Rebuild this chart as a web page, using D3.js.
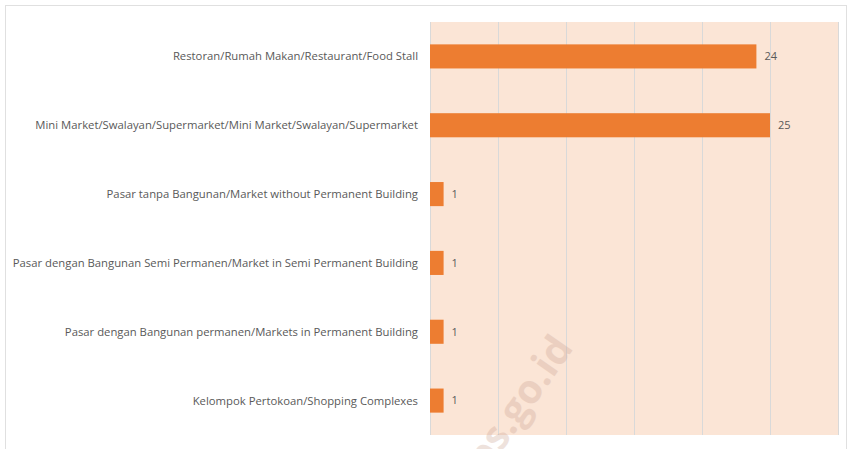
<!DOCTYPE html>
<html>
<head>
<meta charset="utf-8">
<script src="https://cdn.jsdelivr.net/npm/d3@7"></script>
<style>
  body { margin: 0; background: #fff; }
  svg { display: block; }
  .cat-label { font-family: 'Open Sans', sans-serif; font-size: 11.3px; fill: #595959; }
  .val-label { font-family: 'Open Sans', sans-serif; font-size: 11px; fill: #595959; }
</style>
</head>
<body>
<svg id="chart" width="850" height="449"></svg>
<script>
const categories = [
  'Restoran/Rumah Makan/Restaurant/Food Stall',
  'Mini Market/Swalayan/Supermarket/Mini Market/Swalayan/Supermarket',
  'Pasar tanpa Bangunan/Market without Permanent Building',
  'Pasar dengan Bangunan Semi Permanen/Market in Semi Permanent Building',
  'Pasar dengan Bangunan permanen/Markets in Permanent Building',
  'Kelompok Pertokoan/Shopping Complexes'
];
const values = [24, 25, 1, 1, 1, 1];
const ticks = [0, 5, 10, 15, 20, 25, 30];

let svg = d3.select('#chart'),
width = +svg.attr('width'),
height = +svg.attr('height');

// chart frame
svg.append('rect')
  .attr('x', 5.5).attr('y', 5.5)
  .attr('width', 841).attr('height', 460)
  .attr('fill', '#fff')
  .attr('stroke', '#e0e0e0');

const margin = {left: 430, right: 12, top: 22, bottom: 14};
let x = d3.scaleLinear().domain([0, 30]).range([margin.left, width - margin.right]);
let y = d3.scaleBand().domain(categories).range([margin.top, height - margin.bottom]).paddingInner(0.65).paddingOuter(0.325);

svg.append('rect')
  .attr('x', x(0)).attr('y', margin.top)
  .attr('width', x(30) - x(0)).attr('height', height - margin.bottom - margin.top)
  .attr('fill', '#fbe5d6');

svg.append('g')
  .selectAll('line')
  .data(ticks)
  .enter()
  .append('line')
  .attr('x1', (d) => x(d) + 0.5).attr('x2', (d) => x(d) + 0.5)
  .attr('y1', margin.top).attr('y2', height - margin.bottom)
  .attr('stroke', '#d9d9d9')
  .attr('stroke-width', 1);

// watermark
svg.append('text')
  .attr('transform', 'translate(472,494) rotate(-55)')
  .attr('font-family', 'Open Sans, sans-serif')
  .attr('font-weight', 'bold')
  .attr('font-size', 40)
  .attr('fill', '#c8a08f')
  .attr('opacity', 0.3)
  .text('bps.go.id');

svg.append('g')
  .selectAll('rect')
  .data(values)
  .enter()
  .append('rect')
  .attr('x', x(0))
  .attr('y', (d, i) => y(categories[i]))
  .attr('width', (d) => x(d) - x(0))
  .attr('height', y.bandwidth())
  .attr('fill', '#ed7d31');

svg.append('g')
  .selectAll('text')
  .data(values)
  .enter()
  .append('text')
  .attr('class', 'val-label')
  .attr('x', (d) => x(d) + 8)
  .attr('y', (d, i) => y(categories[i]) + y.bandwidth() / 2)
  .attr('dy', '0.35em')
  .text((d) => d);

svg.append('g')
  .selectAll('text')
  .data(categories)
  .enter()
  .append('text')
  .attr('class', 'cat-label')
  .attr('x', x(0) - 12)
  .attr('y', (d) => y(d) + y.bandwidth() / 2)
  .attr('dy', '0.35em')
  .attr('text-anchor', 'end')
  .text((d) => d);
</script>
</body>
</html>
